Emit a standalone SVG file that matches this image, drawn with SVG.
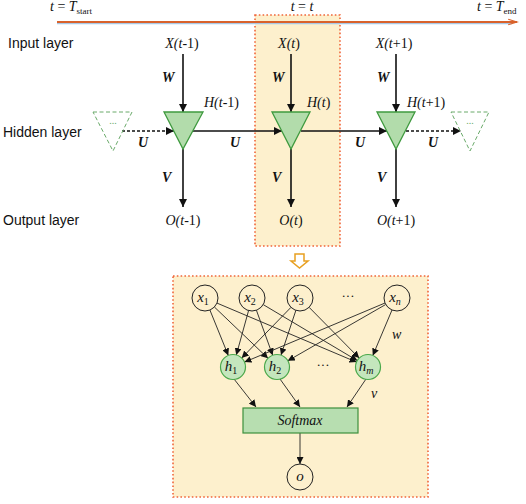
<svg xmlns="http://www.w3.org/2000/svg" width="526" height="504" viewBox="0 0 526 504">
<defs>
<style>
.lbl{font-family:"Liberation Sans",Arial,sans-serif;font-size:14px;fill:#111}
.m{font-family:"Liberation Serif","Times New Roman",serif;font-style:italic;font-size:14px;fill:#111}
.mb{font-family:"Liberation Serif","Times New Roman",serif;font-style:italic;font-weight:bold;font-size:14px;fill:#111}
.c{font-size:15px}
.up{font-style:normal}
.ln{stroke:#111;stroke-width:1.6;fill:none}
.dl{stroke:#111;stroke-width:1.4;fill:none;stroke-dasharray:3,2}
.tri{fill:#b2dcab;stroke:#3f9a3f;stroke-width:1.3}
.dtri{fill:none;stroke:#6aaa6a;stroke-width:1;stroke-dasharray:4,2.5}
.box{fill:#fdf0cd;stroke:#f0663a;stroke-width:1.6;stroke-dasharray:1.6,2.2}
.xc{fill:#fdf0cd;stroke:#222;stroke-width:1}
.hc{fill:#c4e6bd;stroke:#4aa84a;stroke-width:1.2}
.nl{stroke:#222;stroke-width:0.9;fill:none}
</style>
<marker id="ah" viewBox="0 0 10 10" refX="10" refY="5" markerWidth="8" markerHeight="8" markerUnits="userSpaceOnUse" orient="auto">
<path d="M0,0 L10,5 L0,10 z" fill="#111"/>
</marker>
<marker id="sa" viewBox="0 0 10 10" refX="10" refY="5" markerWidth="7" markerHeight="7" markerUnits="userSpaceOnUse" orient="auto">
<path d="M0,0 L10,5 L0,10 z" fill="#111"/>
</marker>
<marker id="oa" viewBox="0 0 12 10" refX="11" refY="5" markerWidth="12" markerHeight="8" markerUnits="userSpaceOnUse" orient="auto">
<path d="M0,1.5 L11,5 L0,8.5" fill="none" stroke="#d9622b" stroke-width="1.5"/>
</marker>
</defs>
<rect width="526" height="504" fill="#fff"/>

<rect class="box" x="255" y="15" width="85" height="231"/>
<rect class="box" x="173" y="276" width="255" height="221"/>

<g id="timeline">
<line x1="57" y1="23.6" x2="512" y2="23.6" stroke="#a9c9e6" stroke-width="1.2"/>
<line x1="57" y1="22" x2="517" y2="22" stroke="#d9622b" stroke-width="2" marker-end="url(#oa)"/>
<text class="m" x="50" y="11" font-size="14">t <tspan class="up">=</tspan> T<tspan font-size="9" dy="3" class="up">start</tspan></text>
<text class="m" x="302" y="11" font-size="14" text-anchor="middle">t <tspan class="up">=</tspan> t</text>
<text class="m" x="477" y="11" font-size="14">t <tspan class="up">=</tspan> T<tspan font-size="9" dy="3" class="up">end</tspan></text>
</g>

<text class="lbl" x="8" y="48">Input layer</text>
<text class="lbl" x="3" y="137">Hidden layer</text>
<text class="lbl" x="3" y="225">Output layer</text>

<g id="rnn-connectors">
<line class="ln" x1="183" y1="54" x2="183" y2="112" marker-end="url(#ah)"/>
<line class="ln" x1="291" y1="54" x2="291" y2="112" marker-end="url(#ah)"/>
<line class="ln" x1="396" y1="54" x2="396" y2="112" marker-end="url(#ah)"/>
<line class="ln" x1="183" y1="149" x2="183" y2="207" marker-end="url(#ah)"/>
<line class="ln" x1="291" y1="149" x2="291" y2="207" marker-end="url(#ah)"/>
<line class="ln" x1="396" y1="149" x2="396" y2="207" marker-end="url(#ah)"/>
<line class="dl" x1="122" y1="131" x2="174" y2="131" marker-end="url(#ah)"/>
<line class="ln" x1="193" y1="131" x2="282" y2="131" marker-end="url(#ah)"/>
<line class="ln" x1="301" y1="131" x2="387" y2="131" marker-end="url(#ah)"/>
<line class="dl" x1="406" y1="131" x2="461" y2="131" marker-end="url(#ah)"/>
<text class="mb" x="162" y="82">W</text>
<text class="mb" x="272" y="82">W</text>
<text class="mb" x="377" y="82">W</text>
<text class="mb" x="162" y="182">V</text>
<text class="mb" x="272" y="182">V</text>
<text class="mb" x="377" y="182">V</text>
<text class="mb" x="138" y="147">U</text>
<text class="mb" x="230" y="147">U</text>
<text class="mb" x="355" y="147">U</text>
<text class="mb" x="428" y="147">U</text>
</g>

<g id="x-t-1"><text class="m" x="182" y="48" text-anchor="middle">X(t<tspan class="up">-1)</tspan></text></g>
<g id="x-t"><text class="m" x="289" y="48" text-anchor="middle">X(t<tspan class="up">)</tspan></text></g>
<g id="x-t1"><text class="m" x="394" y="48" text-anchor="middle">X(t<tspan class="up">+1)</tspan></text></g>

<g id="h-prev"><polygon class="dtri" points="93,112 132,112 113,151"/><text x="113" y="124" font-family="Liberation Serif,serif" font-size="10" fill="#6aaa6a" text-anchor="middle">...</text></g>
<g id="h-t-1"><polygon class="tri" points="164,112 203,112 183,149"/><text class="m" x="204" y="107">H(t<tspan class="up">-1)</tspan></text></g>
<g id="h-t"><polygon class="tri" points="272,112 310,112 291,149"/><text class="m" x="307" y="107">H(t<tspan class="up">)</tspan></text></g>
<g id="h-t1"><polygon class="tri" points="377,112 415,112 396,149"/><text class="m" x="407" y="107">H(t<tspan class="up">+1)</tspan></text></g>
<g id="h-next"><polygon class="dtri" points="451,112 489,112 470,151"/><text x="470" y="124" font-family="Liberation Serif,serif" font-size="10" fill="#6aaa6a" text-anchor="middle">...</text></g>

<g id="o-t-1"><text class="m" x="183" y="225" text-anchor="middle">O(t<tspan class="up">-1)</tspan></text></g>
<g id="o-t"><text class="m" x="291" y="225" text-anchor="middle">O(t<tspan class="up">)</tspan></text></g>
<g id="o-t1"><text class="m" x="396" y="225" text-anchor="middle">O(t<tspan class="up">+1)</tspan></text></g>

<g id="expand"><path d="M295,254 L304,254 L304,261 L308,261 L299.5,268 L291,261 L295,261 Z" fill="#fff" stroke="#e8a020" stroke-width="1.5"/></g>

<g id="net-connectors">
<line class="nl" x1="209.9" y1="310" x2="228.3" y2="355.4" marker-end="url(#sa)"/>
<line class="nl" x1="214.4" y1="307" x2="268" y2="358.3" marker-end="url(#sa)"/>
<line class="nl" x1="217" y1="303.1" x2="356.5" y2="362.1" marker-end="url(#sa)"/>
<line class="nl" x1="248.6" y1="310.5" x2="236.3" y2="355" marker-end="url(#sa)"/>
<line class="nl" x1="256.4" y1="310.2" x2="272.7" y2="355.3" marker-end="url(#sa)"/>
<line class="nl" x1="263.2" y1="304.6" x2="357.3" y2="360.6" marker-end="url(#sa)"/>
<line class="nl" x1="291" y1="307.3" x2="241.7" y2="358" marker-end="url(#sa)"/>
<line class="nl" x1="295.9" y1="310.3" x2="281" y2="355.1" marker-end="url(#sa)"/>
<line class="nl" x1="309.1" y1="307.3" x2="359.2" y2="358.1" marker-end="url(#sa)"/>
<line class="nl" x1="385" y1="303" x2="244.5" y2="362.1" marker-end="url(#sa)"/>
<line class="nl" x1="385.7" y1="304.5" x2="287.8" y2="360.8" marker-end="url(#sa)"/>
<line class="nl" x1="392" y1="310" x2="372.8" y2="355.5" marker-end="url(#sa)"/>
<line class="nl" x1="234" y1="379" x2="256" y2="407" marker-end="url(#sa)"/>
<line class="nl" x1="280" y1="379" x2="300" y2="407" marker-end="url(#sa)"/>
<line class="nl" x1="366" y1="379" x2="347" y2="407" marker-end="url(#sa)"/>
<line class="nl" x1="300" y1="433" x2="300" y2="464" marker-end="url(#sa)"/>
<text class="m" x="392" y="339" font-size="14">w</text>
<text class="m" x="371" y="398" font-size="14">v</text>
</g>

<g id="x1"><circle class="xc" cx="205" cy="298" r="13"/><text class="m c" x="203" y="302" text-anchor="middle">x<tspan class="up" font-size="10" dy="3">1</tspan></text></g>
<g id="x2"><circle class="xc" cx="252" cy="298" r="13"/><text class="m c" x="250" y="302" text-anchor="middle">x<tspan class="up" font-size="10" dy="3">2</tspan></text></g>
<g id="x3"><circle class="xc" cx="300" cy="298" r="13"/><text class="m c" x="298" y="302" text-anchor="middle">x<tspan class="up" font-size="10" dy="3">3</tspan></text></g>
<text x="348" y="300" font-family="Liberation Serif,serif" font-size="13" fill="#111" text-anchor="middle">···</text>
<g id="xn"><circle class="xc" cx="397" cy="298" r="13"/><text class="m c" x="395" y="302" text-anchor="middle">x<tspan font-size="10" dy="3">n</tspan></text></g>

<g id="h1"><circle class="hc" cx="233" cy="367" r="12.5"/><text class="m c" x="231" y="371" text-anchor="middle">h<tspan class="up" font-size="10" dy="3">1</tspan></text></g>
<g id="h2"><circle class="hc" cx="277" cy="367" r="12.5"/><text class="m c" x="275" y="371" text-anchor="middle">h<tspan class="up" font-size="10" dy="3">2</tspan></text></g>
<text x="323" y="369" font-family="Liberation Serif,serif" font-size="13" fill="#111" text-anchor="middle">···</text>
<g id="hm"><circle class="hc" cx="368" cy="367" r="12.5"/><text class="m c" x="366" y="371" text-anchor="middle">h<tspan font-size="10" dy="3">m</tspan></text></g>

<g id="softmax"><rect x="243" y="408" width="115" height="25" fill="#b7deb0" stroke="#3d8f3d" stroke-width="1.2"/><text class="m" x="300" y="425" text-anchor="middle">Softmax</text></g>

<g id="o"><circle class="xc" cx="300" cy="477" r="13"/><text class="m c" x="300" y="481" text-anchor="middle">o</text></g>
</svg>
